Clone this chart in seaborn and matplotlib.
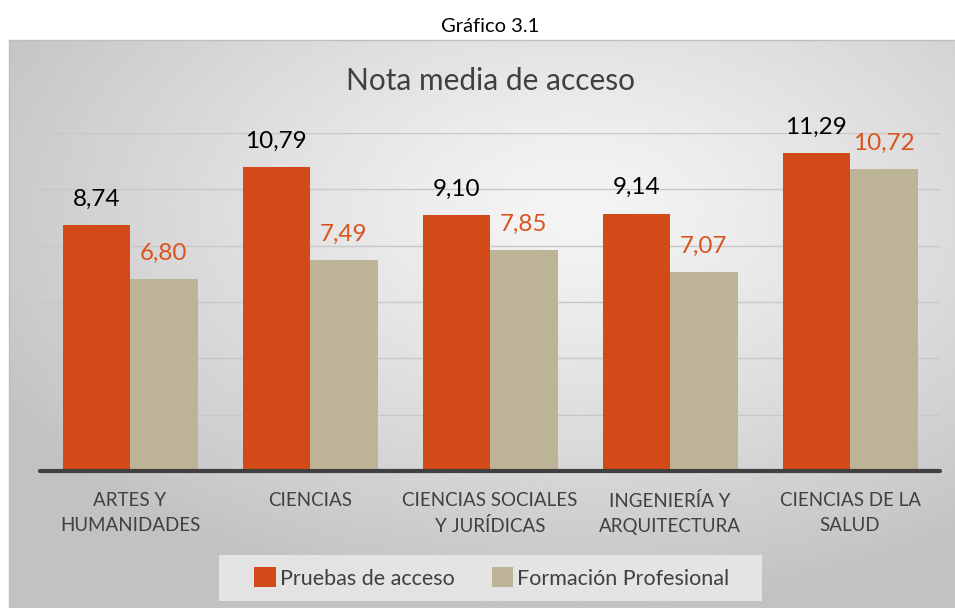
import numpy as np
import pandas as pd
import seaborn as sns
import matplotlib.pyplot as plt
from matplotlib.patches import Rectangle

# Datos
ramas = ["ARTES Y\nHUMANIDADES", "CIENCIAS", "CIENCIAS SOCIALES\nY JURÍDICAS",
         "INGENIERÍA Y\nARQUITECTURA", "CIENCIAS DE LA\nSALUD"]
pruebas_acceso = [8.74, 10.79, 9.10, 9.14, 11.29]
formacion_prof = [6.80, 7.49, 7.85, 7.07, 10.72]
series = ["Pruebas de acceso", "Formación Profesional"]

df = pd.DataFrame({
    "Rama": ramas * 2,
    "Nota": pruebas_acceso + formacion_prof,
    "Acceso": [series[0]] * len(ramas) + [series[1]] * len(ramas),
})

sns.set_theme(style="white")
plt.rcParams["font.family"] = ["Lato", "DejaVu Sans"]

colores = ["#D24A17", "#BDB397"]
W, H = 955, 608
fig = plt.figure(figsize=(W / 100, H / 100), dpi=100)
fig.patch.set_facecolor("white")

# Fondo del gráfico con degradado radial
bg = fig.add_axes([9 / W, 0, (W - 9) / W, (H - 40) / H])
yy, xx = np.mgrid[0:1:300j, 0:1:500j]
r = np.sqrt(((xx - 0.6) / 0.85) ** 2 + ((yy - 0.3) / 0.85) ** 2)
grad = np.clip(0.96 - 0.25 * r ** 1.2, 0.76, 0.96)
bg.imshow(grad, cmap="gray", vmin=0, vmax=1, aspect="auto", extent=[0, 1, 1, 0])
bg.set_xticks([])
bg.set_yticks([])
for s in bg.spines.values():
    s.set_color("#bfbfbf")
    s.set_linewidth(1)
bg.spines["right"].set_visible(False)
bg.spines["bottom"].set_visible(False)

fig.text(490 / W, 1 - 27 / H, "Gráfico 3.1", ha="center", va="center",
         fontsize=14.5, color="black")

# Ejes principales
ax = fig.add_axes([40 / W, (H - 471) / H, 900 / W, (471 - 133) / H])
ax.patch.set_alpha(0)
sns.barplot(data=df, x="Rama", y="Nota", hue="Acceso", palette=colores,
            width=0.75, gap=0, saturation=1, linewidth=0, ax=ax, legend=True)
ax.set_ylim(0, 12)
ax.set_yticks(np.arange(0, 13, 2))
ax.yaxis.grid(True, color="#c8c8c8", lw=1)
ax.set_axisbelow(True)
ax.tick_params(axis="y", left=False, labelleft=False)
ax.tick_params(axis="x", bottom=False, labelsize=13.5, labelcolor="#404040", pad=9)
for t in ax.get_xticklabels():
    t.set_linespacing(1.55)
for s in ax.spines.values():
    s.set_visible(False)
ax.axhline(0, color="#404040", lw=3, zorder=5, clip_on=False)
ax.set_xlabel("")
ax.set_ylabel("")

label_colors = ["black", "#D9541E"]
for cont, col in zip(ax.containers, label_colors):
    ax.bar_label(cont, labels=[f"{v:.2f}".replace(".", ",") for v in cont.datavalues],
                 padding=11, fontsize=17.5, color=col)

fig.text(490 / W, 1 - 81 / H, "Nota media de acceso", ha="center", va="center",
         fontsize=21.5, color="#404040")

# Caja de la leyenda
fig.patches.append(Rectangle((219 / W, 1 - 601 / H), (762 - 219) / W, 46 / H,
                             transform=fig.transFigure, facecolor="#ececec",
                             alpha=0.8, edgecolor="none", zorder=1))

handles, labels = ax.get_legend_handles_labels()
ax.get_legend().remove()
fig.legend(handles, labels, loc="center", bbox_to_anchor=(492 / W, 1 - 578 / H),
           ncol=2, fontsize=15.5, frameon=False, handlelength=1.0, handleheight=1.0,
           handletextpad=0.2, columnspacing=1.7, labelcolor="#404040")

fig.savefig("out.png", dpi=100)
